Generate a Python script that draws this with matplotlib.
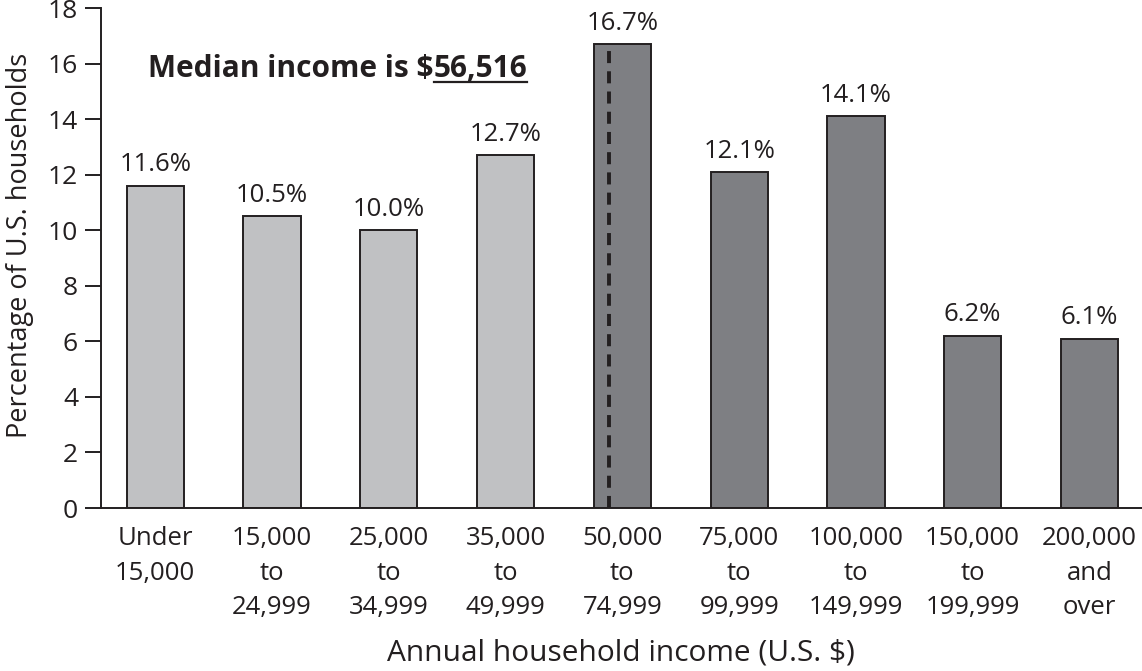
import matplotlib
matplotlib.use("Agg")
import matplotlib.pyplot as plt
import numpy as np

FONT = "Open Sans"
LIGHT = "#c0c1c3"
DARK = "#7e7f83"
INK = "#231f20"

categories = ["Under\n15,000", "15,000\nto\n24,999", "25,000\nto\n34,999",
              "35,000\nto\n49,999", "50,000\nto\n74,999", "75,000\nto\n99,999",
              "100,000\nto\n149,999", "150,000\nto\n199,999", "200,000\nand\nover"]
shares = [11.6, 10.5, 10.0, 12.7, 16.7, 12.1, 14.1, 6.2, 6.1]
bin_low = [0, 15000, 25000, 35000, 50000, 75000, 100000, 150000, 200000]
bin_high = [15000, 25000, 35000, 50000, 75000, 100000, 150000, 200000, None]
median_income = 56516

plt.rcParams["font.family"] = [FONT, "DejaVu Sans"]

fig = plt.figure(figsize=(11.42, 6.71), dpi=100)
W, H = 1142, 671
ax = fig.add_axes([101 / W, 1 - 508 / H, 1 - 101 / W, 500 / H])

x = np.arange(len(shares))
width = 0.49
colors = [LIGHT if (h is not None and h <= 50000) else DARK for h in bin_high]
ax.bar(x, shares, width=width, color=colors, edgecolor=INK, linewidth=1.4, zorder=2)

for xi, v in zip(x, shares):
    ax.text(xi, v + 0.3, f"{v:.1f}%", ha="center", va="bottom",
            fontsize=18.5, color=INK)

# dashed median line inside the bin that holds the median
k = next(i for i, (lo, hi) in enumerate(zip(bin_low, bin_high))
         if hi is not None and lo <= median_income < hi)
frac = (median_income - bin_low[k]) / (bin_high[k] - bin_low[k])
mx = x[k] - width / 2 + frac * width
ax.plot([mx, mx], [0, shares[k]], color=INK, linestyle=(0, (3.1, 2.1)),
        linewidth=2.8, zorder=3)

ax.set_xlim(-0.465, 8.45)
ax.set_ylim(0, 18)
ax.set_yticks(np.arange(0, 19, 2))
ax.tick_params(axis="y", length=11.5, width=1.4, labelsize=19, colors=INK, pad=5)
ax.set_xticks(x)
ax.set_xticklabels(categories, fontsize=18.5, color=INK, linespacing=1.5)
ax.tick_params(axis="x", length=0, pad=13)
for s in ["top", "right"]:
    ax.spines[s].set_visible(False)
for s in ["left", "bottom"]:
    ax.spines[s].set_linewidth(1.4)
    ax.spines[s].set_color(INK)

fig.text(20 / W, 1 - 245 / H, "Percentage of U.S. households", rotation=90,
         ha="center", va="center", fontsize=19.5, color=INK)
fig.text(621 / W, 1 - 653 / H, "Annual household income (U.S. $)", ha="center",
         va="center", fontsize=21.5, color=INK)

# title with underlined amount
ty = 1 - 77 / H
t1 = fig.text(148 / W, ty, "Median income is $", fontsize=21.5,
              fontweight="bold", color=INK, va="baseline")
fig.canvas.draw()
r = fig.canvas.get_renderer()
bb = t1.get_window_extent(r)
t2 = fig.text(bb.x1 / W, ty, "56,516", fontsize=21.5,
              fontweight="bold", color=INK, va="baseline")
bb2 = t2.get_window_extent(r)
uy = ty - 5 / H
fig.add_artist(plt.Line2D([bb2.x0 / W, bb2.x1 / W], [uy, uy],
                          transform=fig.transFigure, color=INK, linewidth=1.6))

fig.savefig("out.png", dpi=100, facecolor="white")
